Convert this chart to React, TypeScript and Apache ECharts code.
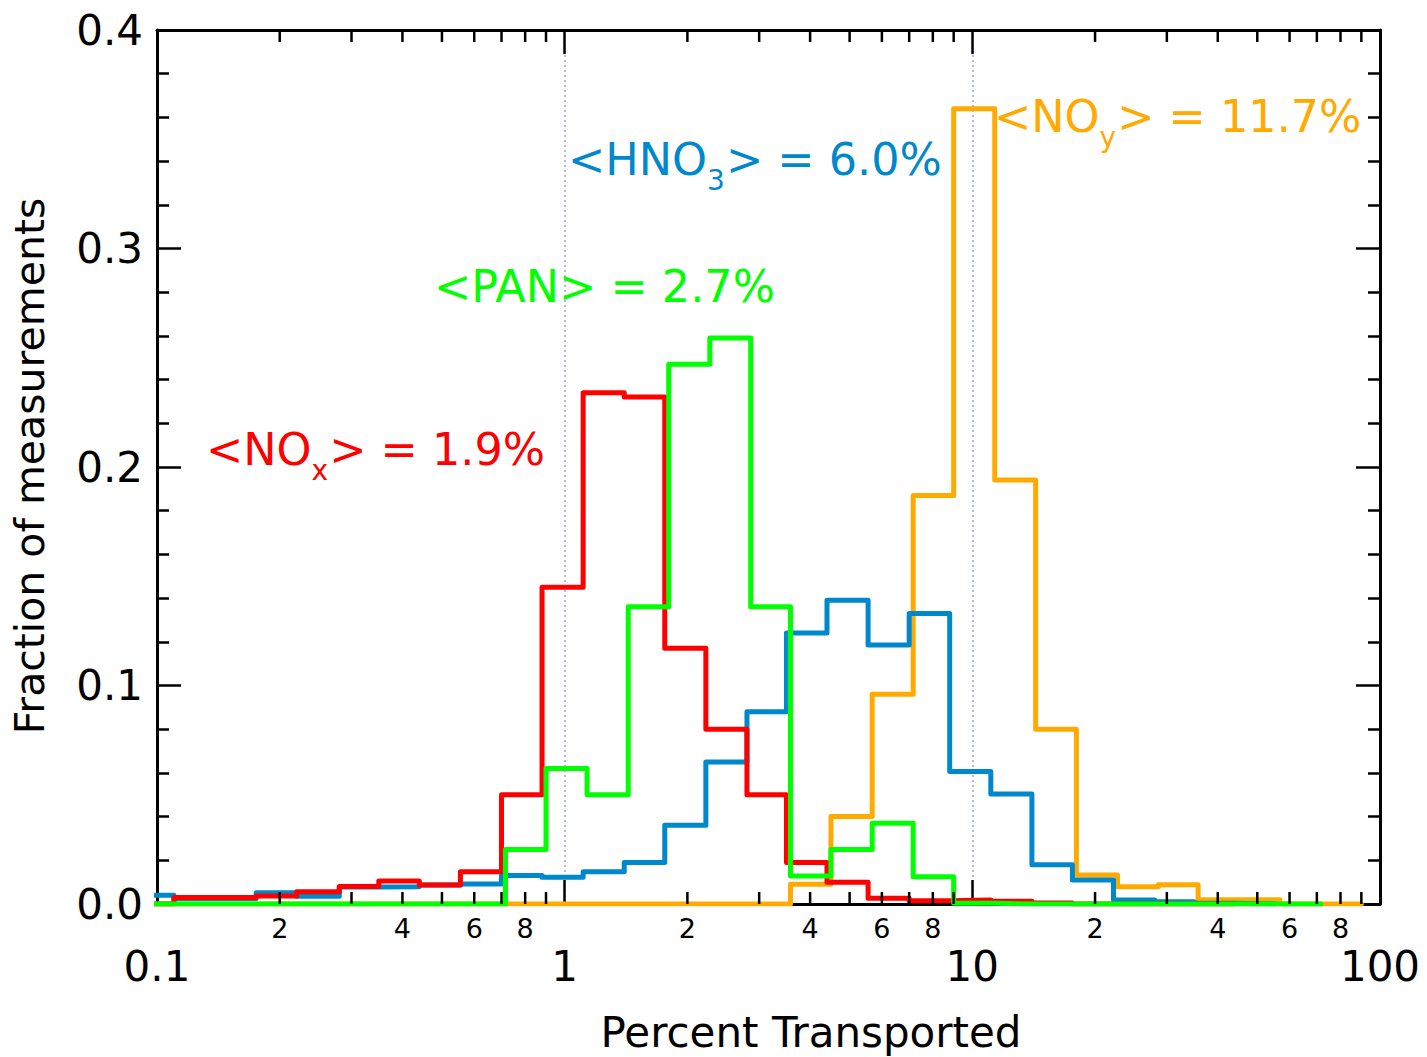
import React, { useEffect, useRef } from "react";
import * as echarts from "echarts";

const FONT = '"DejaVu Sans", Verdana, sans-serif';

// Bin edges (percent transported) for NOx and HNO3 histograms
const edgesA = [0.088, 0.11, 0.14, 0.175, 0.22, 0.28, 0.35, 0.44, 0.555, 0.70, 0.88, 1.11, 1.40, 1.76, 2.22, 2.80, 3.50, 4.40, 5.55, 7.00, 8.80, 11.1, 14.0, 17.6, 22.2, 28.0, 35.0, 44.0, 55.5, 70.0, 88.0];
// Bin edges for PAN and NOy histograms (drawn slightly shifted)
const edgesB = [0.090, 0.1125, 0.143, 0.179, 0.225, 0.286, 0.358, 0.45, 0.568, 0.716, 0.90, 1.135, 1.432, 1.80, 2.27, 2.86, 3.58, 4.50, 5.68, 7.16, 9.00, 11.35, 14.3, 18.0, 22.7, 28.6, 35.8, 45.0, 56.8, 71.6, 90.0];

const noxValues = [0, 0.003, 0.003, 0.0037, 0.0056, 0.008, 0.0105, 0.0087, 0.0148, 0.050, 0.145, 0.234, 0.232, 0.117, 0.080, 0.050, 0.019, 0.010, 0.0026, 0.0015, 0.0018, 0.0013, 0.0005, 0, 0, 0, 0];
const hno3Values = [0.004, 0.0025, 0.0025, 0.0051, 0.0036, 0.0078, 0.0079, 0.0087, 0.0092, 0.013, 0.0122, 0.0148, 0.019, 0.036, 0.065, 0.088, 0.124, 0.139, 0.1185, 0.133, 0.0606, 0.0503, 0.018, 0.011, 0.0018, 0.001, 0.0003, 0];
const panValues = [0, 0, 0, 0, 0, 0, 0, 0, 0, 0.025, 0.062, 0.050, 0.136, 0.247, 0.259, 0.136, 0.0128, 0.025, 0.037, 0.0125, 0.0003, 0, 0, 0, 0, 0, 0, 0, 0];
const noyValues = [0, 0, 0, 0, 0, 0, 0, 0, 0, 0, 0, 0, 0, 0, 0, 0, 0.009, 0.040, 0.096, 0.187, 0.364, 0.194, 0.080, 0.0133, 0.0079, 0.0088, 0.0019, 0.0019, 0, 0];

const RED = "#ff0000";
const GREEN = "#00ff00";
const BLUE = "#0088cc";
const ORANGE = "#ffaa00";

const X_MIN = 0.1;
const X_MAX = 100;
const Y_MIN = 0;
const Y_MAX = 0.4;
const Y_STEP = 0.1;

const minorTickValues = [0.2, 0.3, 0.4, 0.5, 0.6, 0.7, 0.8, 0.9, 2, 3, 4, 5, 6, 7, 8, 9, 20, 30, 40, 50, 60, 70, 80, 90];
const minorLabelDigits = [2, 4, 6, 8];

const annotations = [
  { parts: ["<NO", "x", "> = 1.9%"], color: RED, x: 206, baseline: 465 },
  { parts: ["<PAN> = 2.7%"], color: GREEN, x: 434, baseline: 302 },
  { parts: ["<HNO", "3", "> = 6.0%"], color: BLUE, x: 568, baseline: 175 },
  { parts: ["<NO", "y", "> = 11.7%"], color: ORANGE, x: 994, baseline: 132 },
];

const xTitle = "Percent Transported";
const yTitle = "Fraction of measurements";

function steps(edges: number[], values: number[]) {
  const pts = values.map((v, i) => [edges[i], v]);
  pts.push([edges[values.length], values[values.length - 1]]);
  return pts;
}

export default function App() {
  const ref = useRef<HTMLDivElement>(null);
  useEffect(() => {
    const chart = echarts.init(ref.current!, undefined, { renderer: "svg" });
    const ctx = document.createElement("canvas").getContext("2d")!;
    const measure = (t: string, size: number) => {
      ctx.font = `${size}px "DejaVu Sans"`;
      return ctx.measureText(t).width;
    };
    const MAIN = 44.5;
    const SUB = 28;
    const LABEL = 42;
    const graphics: any[] = [];
    annotations.forEach((a) => {
      let x = a.x;
      a.parts.forEach((p, i) => {
        const isSub = i % 2 === 1;
        const size = isSub ? SUB : MAIN;
        const base = isSub ? a.baseline + 15 : a.baseline;
        graphics.push({
          type: "text",
          x,
          y: base - 0.346 * size,
          z: 10,
          style: { text: p, fontSize: size, fontFamily: FONT, fill: a.color, align: "left", verticalAlign: "middle" },
        });
        x += measure(p, size) + (isSub ? 1 : 0);
      });
    });
    graphics.push({
      type: "text",
      x: 811,
      y: 1032,
      style: { text: xTitle, fontSize: LABEL, fontFamily: FONT, fill: "#000", align: "center", verticalAlign: "middle" },
    });
    graphics.push({
      type: "text",
      x: 30,
      y: 466,
      rotation: Math.PI / 2,
      style: { text: yTitle, fontSize: 41, fontFamily: FONT, fill: "#000", align: "center", verticalAlign: "middle" },
    });

    const axisLine = { show: true, onZero: false, lineStyle: { color: "#000", width: 3 } };
    const tick = { show: true, inside: true, length: 24, lineStyle: { color: "#000", width: 2.5 } };

    const lineSeries = (name: string, data: number[][], color: string) => ({
      type: "line",
      name,
      data,
      step: "end",
      symbol: "none",
      xAxisIndex: 0,
      yAxisIndex: 0,
      lineStyle: { color, width: 5, cap: "round", join: "round" },
      z: 2,
    });

    const option: any = {
      animation: false,
      backgroundColor: "#fff",
      grid: { left: 157, right: 47, top: 30, bottom: 153, containLabel: false },
      xAxis: [
        {
          type: "log",
          logBase: 10,
          min: X_MIN,
          max: X_MAX,
          position: "bottom",
          axisLine,
          axisTick: tick,
          axisLabel: {
            show: true,
            margin: 41,
            fontSize: LABEL,
            fontFamily: FONT,
            color: "#000",
            formatter: (v: number) => String(+v.toPrecision(3)),
          },
          splitLine: { show: true, lineStyle: { color: "#9d9dff", width: 1.5, type: [2, 3] } },
          minorTick: { show: false },
        },
        {
          type: "log",
          logBase: 10,
          min: X_MIN,
          max: X_MAX,
          position: "top",
          axisLine,
          axisTick: tick,
          axisLabel: { show: false },
          splitLine: { show: false },
        },
      ],
      yAxis: [
        {
          type: "value",
          min: Y_MIN,
          max: Y_MAX,
          interval: Y_STEP,
          position: "left",
          axisLine,
          axisTick: tick,
          minorTick: { show: true, splitNumber: 5, length: 12, lineStyle: { color: "#000", width: 2.5 } },
          axisLabel: {
            show: true,
            margin: 14,
            fontSize: LABEL,
            fontFamily: FONT,
            color: "#000",
            formatter: (v: number) => v.toFixed(1),
          },
          splitLine: { show: false },
        },
        {
          type: "value",
          min: Y_MIN,
          max: Y_MAX,
          interval: Y_STEP,
          position: "right",
          axisLine,
          axisTick: tick,
          minorTick: { show: true, splitNumber: 5, length: 12, lineStyle: { color: "#000", width: 2.5 } },
          axisLabel: { show: false },
          splitLine: { show: false },
        },
      ],
      series: [
        lineSeries("NOy", steps(edgesB, noyValues), ORANGE),
        lineSeries("HNO3", steps(edgesA, hno3Values), BLUE),
        lineSeries("NOx", steps(edgesA, noxValues), RED),
        lineSeries("PAN", steps(edgesB, panValues), GREEN),
        {
          type: "custom",
          name: "minorTicks",
          xAxisIndex: 0,
          yAxisIndex: 0,
          data: minorTickValues.map((v) => [v, Y_MIN]),
          clip: false,
          z: 3,
          silent: true,
          renderItem: (_p: any, api: any) => {
            const v = api.value(0);
            const b = api.coord([v, Y_MIN]);
            const t = api.coord([v, Y_MAX]);
            const mant = Math.round(v / Math.pow(10, Math.floor(Math.log10(v) + 1e-9)));
            const st = { stroke: "#000", lineWidth: 2.5 };
            const children: any[] = [
              { type: "line", shape: { x1: b[0], y1: b[1], x2: b[0], y2: b[1] - 12 }, style: st },
              { type: "line", shape: { x1: t[0], y1: t[1], x2: t[0], y2: t[1] + 12 }, style: st },
            ];
            if (minorLabelDigits.indexOf(mant) >= 0) {
              children.push({
                type: "text",
                x: b[0],
                y: b[1] + 24,
                style: { text: String(mant), fontSize: 27, fontFamily: FONT, fill: "#000", align: "center", verticalAlign: "middle" },
              });
            }
            return { type: "group", children };
          },
        },
      ],
      graphic: graphics,
    };
    chart.setOption(option);
    return () => chart.dispose();
  }, []);
  return (
    <div
      ref={ref}
      style={{ position: "fixed", left: 0, top: 0, width: 1427, height: 1057, background: "#fff" }}
    />
  );
}
